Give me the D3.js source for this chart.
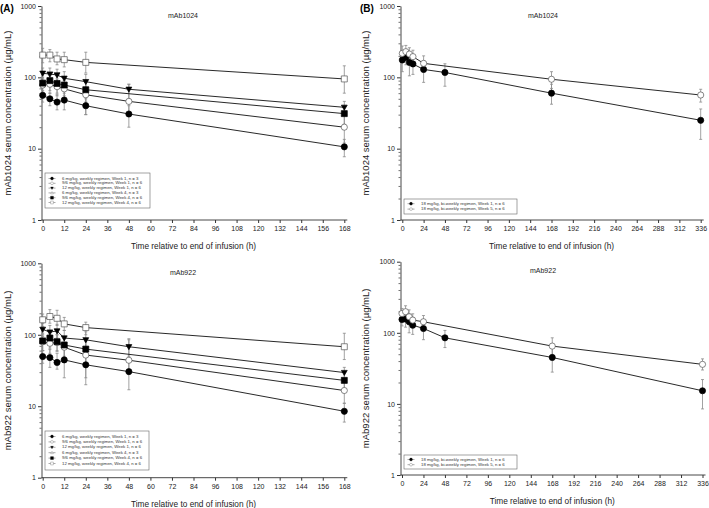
<!DOCTYPE html>
<html>
<head>
<meta charset="utf-8">
<script src="https://cdn.jsdelivr.net/npm/d3@7"></script>
<style>
  body { margin: 0; background: #fff; }
  svg { font-family: "Liberation Sans", Arial, sans-serif; display: block; }
</style>
</head>
<body>
<div id="chart"></div>
<script>
// ---- data ----
const weeklyTimes = [0, 4, 8, 12, 24, 48, 168];
const biweeklyTimes = [0, 4, 8, 12, 24, 48, 168, 336];
const weeklyTicks = d3.range(0, 169, 12);
const biweeklyTicks = d3.range(0, 337, 24);
const yTicks = [1, 10, 100, 1000];

const weeklyLabels = [
  "6 mg/kg, weekly regimen, Week 1, n = 3",
  "9/6 mg/kg, weekly regimen, Week 1, n = 6",
  "12 mg/kg, weekly regimen, Week 1, n = 6",
  "6 mg/kg, weekly regimen, Week 4, n = 3",
  "9/6 mg/kg, weekly regimen, Week 4, n = 6",
  "12 mg/kg, weekly regimen, Week 4, n = 6"
];
const biweeklyLabels = [
  "18 mg/kg, bi-weekly regimen, Week 1, n = 6",
  "18 mg/kg, bi-weekly regimen, Week 5, n = 6"
];

// mAb1024, weekly (mean, lower, upper)
const w1024Mean = [
  [56, 50, 45, 48, 40, 30.6, 10.6],
  [78, 80, 74, 69, 57, 46, 20],
  [114, 111, 108, 97, 87, 68, 38],
  [null, null, null, null, null, null, null],
  [83, 90, 82, 78, 67, null, 31],
  [205, 205, 181, 177, 162, null, 95]
];
const w1024Low = [
  [45, 40, 35, 35, 30, 20, 7.7],
  [55, 60, 55, 50, 30, 30, 12],
  [95, 90, 85, 75, 60, 50, 30],
  [null, null, null, null, null, null, null],
  [60, 65, 60, 55, 45, null, 22],
  [160, 165, 150, 140, 115, null, 60]
];
const w1024High = [
  [65, 60, 57, 60, 50, 40, 13.5],
  [100, 105, 95, 90, 85, 80, 30],
  [135, 135, 130, 120, 110, 80, 46],
  [null, null, null, null, null, null, null],
  [110, 115, 105, 100, 85, null, 40],
  [255, 245, 225, 225, 225, null, 145]
];

// mAb922, weekly
const w922Mean = [
  [49.6, 48, 41, 44.5, 38, 30.5, 8.5],
  [80, 76, 78, 67, 52, 44, 16.6],
  [119, 109, 113, 90, 85, 68, 29.6],
  [null, null, null, null, null, null, null],
  [82, 90, 80, 72, 63, null, 23],
  [162, 180, 170, 142, 126, null, 68]
];
const w922Low = [
  [40, 35, 33, 25, 20, 17, 6],
  [60, 55, 58, 45, 25, 28, 11],
  [95, 85, 90, 65, 60, 50, 24],
  [null, null, null, null, null, null, null],
  [60, 65, 60, 50, 40, null, 17],
  [130, 145, 135, 115, 100, null, 45]
];
const w922High = [
  [60, 62, 55, 65, 55, 45, 11],
  [100, 100, 100, 90, 80, 85, 22],
  [145, 135, 140, 115, 110, 88, 35],
  [null, null, null, null, null, null, null],
  [105, 115, 100, 95, 85, null, 30],
  [195, 225, 220, 175, 150, null, 105]
];

// bi-weekly (Week 1 filled, Week 5 open)
const b1024Mean = [
  [175, 191, 162, 154, 129, 117, 60, 25],
  [217, 229, 212, 195, 157, null, 94, 56.5]
];
const b1024Low = [
  [120, 150, 105, 110, 85, 75, 42, 13.5],
  [170, 175, 165, 150, 120, null, 70, 45]
];
const b1024High = [
  [230, 230, 215, 200, 170, 155, 80, 36],
  [275, 280, 260, 240, 200, null, 120, 68]
];

const b922Mean = [
  [154, 156, 143, 128, 115, 85, 45, 15.3],
  [187, 198, 168, 151, 143, null, 65, 36]
];
const b922Low = [
  [125, 120, 100, 95, 80, 62, 28, 8.5],
  [150, 160, 130, 120, 110, null, 45, 30]
];
const b922High = [
  [185, 195, 185, 165, 150, 108, 65, 22],
  [220, 240, 210, 185, 175, null, 85, 43]
];

// ---- styles ----
const weeklyMarks = [
  { shape: "circle", fill: "#000" },
  { shape: "circle", fill: "#fff" },
  { shape: "triDown", fill: "#000" },
  { shape: "triUp", fill: "#fff" },
  { shape: "square", fill: "#000" },
  { shape: "square", fill: "#fff" }
];
const biweeklyMarks = [
  { shape: "circle", fill: "#000" },
  { shape: "circle", fill: "#fff" }
];

const width = 709;
const height = 508;

const svg = d3.select("#chart")
  .append("svg")
  .attr("width", width)
  .attr("height", height);

function markerPath(shape, s) {
  if (shape === "circle") {
    return `M${-s},0A${s},${s} 0 1,0 ${s},0A${s},${s} 0 1,0 ${-s},0Z`;
  }
  if (shape === "square") {
    return `M${-s},${-s}H${s}V${s}H${-s}Z`;
  }
  if (shape === "triDown") {
    return `M${-s * 0.95},${-s * 0.7}H${s * 0.95}L0,${s * 0.95}Z`;
  }
  return `M${-s * 0.95},${s * 0.7}H${s * 0.95}L0,${-s * 0.95}Z`;
}

function drawPanel(p) {
  const x = d3.scaleLinear().domain([0, p.xMax]).range([p.x0, p.x1]);
  const y = d3.scaleLog().domain([1, 1000]).range([p.yBot, p.yTop]);
  const g = svg.append("g");

  // y axis: majors + minors
  const minors = [];
  [1, 10, 100].forEach((d) => { for (let k = 2; k <= 9; k++) minors.push(d * k); });

  const yAx = g.append("g")
    .attr("transform", `translate(${p.axisX},0)`)
    .call(d3.axisLeft(y).tickValues(yTicks).tickFormat(d3.format("d")).tickSize(3.5).tickSizeOuter(0).tickPadding(2));
  yAx.selectAll("text").attr("font-size", 7).attr("fill", "#222");
  yAx.select(".domain").attr("stroke", "#333").attr("stroke-width", 0.9);
  yAx.selectAll(".tick line").attr("stroke", "#333");

  const yMin = g.append("g")
    .attr("transform", `translate(${p.axisX},0)`)
    .call(d3.axisLeft(y).tickValues(minors).tickFormat("").tickSize(2).tickSizeOuter(0));
  yMin.select(".domain").remove();
  yMin.selectAll(".tick line").attr("stroke", "#333").attr("stroke-width", 0.7);

  // x axis
  const xAx = g.append("g")
    .attr("transform", `translate(0,${p.yBot})`)
    .call(d3.axisBottom(x).tickValues(p.ticks).tickSize(3).tickSizeOuter(0).tickPadding(3));
  xAx.select(".domain").remove();
  xAx.selectAll("text").attr("font-size", 7).attr("fill", "#222");
  xAx.selectAll(".tick line").attr("stroke", "#333");
  g.append("line")
    .attr("x1", p.axisX).attr("x2", p.x1 + 3)
    .attr("y1", p.yBot).attr("y2", p.yBot)
    .attr("stroke", "#333").attr("stroke-width", 0.9);

  // titles
  g.append("text")
    .attr("x", p.titleX).attr("y", p.yTop + 11.5)
    .attr("text-anchor", "middle")
    .attr("font-size", 7)
    .attr("fill", "#222")
    .text(p.title);

  g.append("text")
    .attr("x", (p.x0 + p.x1) / 2).attr("y", p.yBot + 29)
    .attr("text-anchor", "middle")
    .attr("font-size", 8.3)
    .attr("fill", "#222")
    .text("Time relative to end of infusion (h)");

  g.append("text")
    .attr("transform", `translate(${p.yLabelX},${(p.yTop + p.yBot) / 2}) rotate(-90)`)
    .attr("text-anchor", "middle")
    .attr("font-size", 9.5)
    .attr("fill", "#222")
    .text(p.yLabel);

  const series = p.means.map((m, i) => ({
    mark: p.marks[i],
    pts: p.times.map((t, j) => ({ t, v: m[j], lo: p.lows[i][j], hi: p.highs[i][j] }))
      .filter((d) => d.v != null)
  }));

  // error bars
  series.forEach((s) => {
    const eb = g.append("g").attr("stroke", "#8a8a8a").attr("stroke-width", 0.8);
    s.pts.forEach((d) => {
      eb.append("line")
        .attr("x1", x(d.t)).attr("x2", x(d.t))
        .attr("y1", y(d.lo)).attr("y2", y(d.hi));
      [d.lo, d.hi].forEach((v) => {
        eb.append("line")
          .attr("x1", x(d.t) - 1.5).attr("x2", x(d.t) + 1.5)
          .attr("y1", y(v)).attr("y2", y(v));
      });
    });
  });

  // lines
  const line = d3.line().x((d) => x(d.t)).y((d) => y(d.v));
  series.forEach((s) => {
    g.append("path")
      .attr("d", line(s.pts))
      .attr("fill", "none")
      .attr("stroke", "#111")
      .attr("stroke-width", 0.9);
  });

  // markers
  series.forEach((s) => {
    g.selectAll(null)
      .data(s.pts)
      .enter()
      .append("path")
      .attr("transform", (d) => `translate(${x(d.t)},${y(d.v)})`)
      .attr("d", markerPath(s.mark.shape, s.mark.shape === "square" ? 3 : 3.1))
      .attr("fill", s.mark.fill)
      .attr("stroke", s.mark.fill === "#fff" ? "#555" : "#000")
      .attr("stroke-width", 0.7);
  });

  // legend
  const lg = g.append("g");
  lg.append("rect")
    .attr("x", p.legend.x).attr("y", p.legend.y)
    .attr("width", p.legend.w).attr("height", p.legend.h)
    .attr("fill", "#fff").attr("stroke", "#666").attr("stroke-width", 0.6);
  p.labels.forEach((label, i) => {
    const cy = p.legend.y + p.legend.first + i * p.legend.step;
    const mx = p.legend.x + 7;
    lg.append("line")
      .attr("x1", mx - 3.5).attr("x2", mx + 3.5)
      .attr("y1", cy).attr("y2", cy)
      .attr("stroke", "#555").attr("stroke-width", 0.5);
    lg.append("path")
      .attr("transform", `translate(${mx},${cy})`)
      .attr("d", markerPath(p.marks[i].shape, 1.4))
      .attr("fill", p.marks[i].fill)
      .attr("stroke", p.marks[i].fill === "#fff" ? "#777" : "#000")
      .attr("stroke-width", 0.4);
    lg.append("text")
      .attr("x", p.legend.x + 17).attr("y", cy)
      .attr("dominant-baseline", "middle")
      .attr("font-size", 4.3)
      .attr("fill", "#333")
      .text(label);
  });
}

const panels = [
  {
    title: "mAb1024", yLabel: "mAb1024 serum concentration (µg/mL)",
    times: weeklyTimes, ticks: weeklyTicks, xMax: 168,
    means: w1024Mean, lows: w1024Low, highs: w1024High, marks: weeklyMarks, labels: weeklyLabels,
    axisX: 41.5, x0: 42.7, x1: 344.3, yTop: 6, yBot: 220, titleX: 183, yLabelX: 11,
    legend: { x: 45, y: 173, w: 105, h: 35, first: 5.5, step: 4.8 }
  },
  {
    title: "mAb922", yLabel: "mAb922 serum concentration (µg/mL)",
    times: weeklyTimes, ticks: weeklyTicks, xMax: 168,
    means: w922Mean, lows: w922Low, highs: w922High, marks: weeklyMarks, labels: weeklyLabels,
    axisX: 41.5, x0: 42.7, x1: 344.3, yTop: 263.3, yBot: 477.7, titleX: 183, yLabelX: 11,
    legend: { x: 45, y: 431, w: 104, h: 39, first: 5.5, step: 5.4 }
  },
  {
    title: "mAb1024", yLabel: "mAb1024 serum concentration (µg/mL)",
    times: biweeklyTimes, ticks: biweeklyTicks, xMax: 336,
    means: b1024Mean, lows: b1024Low, highs: b1024High, marks: biweeklyMarks, labels: biweeklyLabels,
    axisX: 400.5, x0: 402.3, x1: 700.7, yTop: 6, yBot: 220, titleX: 543, yLabelX: 369,
    legend: { x: 404, y: 199, w: 113, h: 15, first: 4.7, step: 5.4 }
  },
  {
    title: "mAb922", yLabel: "mAb922 serum concentration (µg/mL)",
    times: biweeklyTimes, ticks: biweeklyTicks, xMax: 336,
    means: b922Mean, lows: b922Low, highs: b922High, marks: biweeklyMarks, labels: biweeklyLabels,
    axisX: 400.5, x0: 402, x1: 702.5, yTop: 261.7, yBot: 475, titleX: 543, yLabelX: 369,
    legend: { x: 404, y: 455, w: 113, h: 14, first: 4.5, step: 5.2 }
  }
];

panels.forEach(drawPanel);

svg.append("text").attr("x", 0).attr("y", 12).attr("font-size", 10).attr("font-weight", "bold").text("(A)");
svg.append("text").attr("x", 360).attr("y", 12).attr("font-size", 10).attr("font-weight", "bold").text("(B)");
</script>
</body>
</html>
